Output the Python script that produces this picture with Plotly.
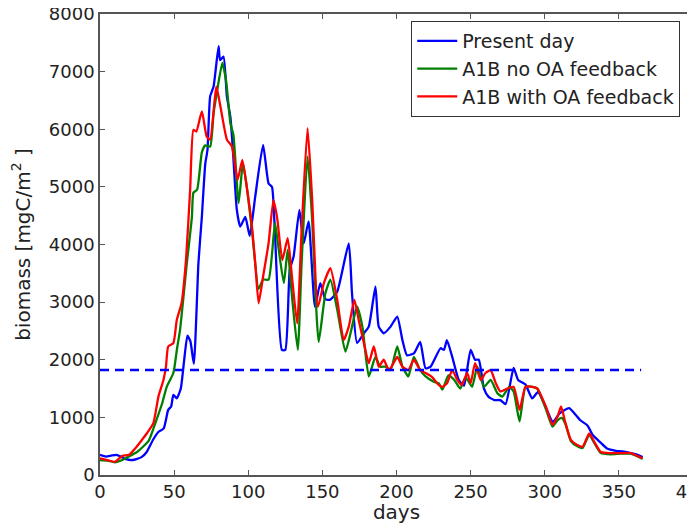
import plotly.graph_objects as go

# ---- data ----
days_present = [0, 4, 8, 11, 14, 17, 22, 28, 31.5, 36, 39.5, 43, 46, 48, 49.5, 51.8, 54.5, 56.8, 59, 61, 63.3,
                66.4, 68.7, 71, 72.5, 74.3, 76.6, 80, 81, 83.3, 85.6, 88, 89.5, 92.3, 94.6, 98, 101, 104.7, 110,
                113.7, 116, 118, 122.7, 125, 128, 130.6, 134.5, 137.4, 140.7, 145, 148.6, 152, 155, 160, 167.8,
                170, 173.4, 178, 181.3, 185.8, 188, 191.4, 196, 200.5, 204, 207, 211.7, 216, 219.6, 223, 229.7,
                232, 234, 237.6, 242, 245.5, 250, 253, 255.5, 259, 262, 266, 270, 273.6, 279, 282, 287, 291.5,
                295.5, 300.5, 305.5, 310, 316.4, 320, 324, 328.8, 332.5, 337.8, 342, 348, 352.5, 358, 362.6, 366]
present = [350, 320, 340, 350, 320, 280, 260, 310, 400, 620, 750, 810, 1130, 1190, 1390, 1330, 1500, 2000, 2420,
           2320, 1930, 3680, 4480, 5400, 5640, 6570, 6740, 7440, 7200, 7260, 6570, 6200, 5700, 4600, 4310, 4480,
           4150, 4830, 5730, 5060, 5000, 4200, 2170, 2170, 3560, 3790, 4600, 4020, 4400, 2920, 3330, 3050, 3040,
           3180, 4020, 3150, 2290, 2460, 2575, 3270, 2575, 2460, 2575, 2750, 2340, 2080, 2110, 2310, 1850, 1880,
           2200, 2170, 2340, 2050, 1650, 1550, 2170, 2000, 2000, 1500, 1360, 1300, 1300, 1230, 1860, 1650, 1570,
           1330, 1440, 1190, 920, 1070, 1160, 1070, 950, 860, 690, 560, 460, 420, 410, 380, 350, 310]

days_no_oa = [0, 5, 10, 15, 20, 25, 29, 33, 38, 42, 45, 49.5, 52, 54, 58.6, 62, 63, 65.5, 68.7, 71, 74.3, 76.6,
              78.8, 82.5, 85, 88, 90, 93.5, 96.4, 99, 102.5, 107, 110, 113.7, 118, 120, 124, 126.6, 129.5, 133.4,
              136, 140, 143, 147.5, 152, 155.4, 160, 165.5, 169, 173.4, 177, 181.3, 185.8, 189, 192.6, 196, 200.5,
              204, 208, 211.7, 216, 219.6, 225, 228.6, 231, 235, 239, 243, 246.6, 251, 254.5, 259, 263.5, 268,
              271.4, 276, 279, 283, 287, 291.7, 295, 300.7, 305.2, 308.6, 311.5, 314, 317.6, 322, 325.5, 330,
              333.3, 337.8, 344.6, 351.4, 358, 362.6, 366]
no_oa = [260, 250, 220, 260, 330, 400, 490, 600, 950, 1250, 1530, 1770, 2200, 2520, 3680, 4480, 4900, 4950, 5600,
         5720, 5700, 6280, 6630, 7150, 6850, 6100, 5900, 4720, 5410, 5000, 4250, 3230, 3390, 3390, 4370, 4020,
         3330, 3910, 3100, 2170, 3680, 5530, 4480, 2310, 3150, 3390, 2870, 2140, 2460, 2920, 2575, 1710, 2050,
         1880, 1880, 1820, 2230, 1880, 1710, 2050, 1820, 1710, 1620, 1590, 1480, 1730, 1650, 1500, 1700, 1530,
         1880, 1530, 1650, 1420, 1360, 1530, 1450, 930, 1530, 1530, 1500, 1150, 840, 950, 990, 880, 590, 500,
         470, 700, 560, 380, 360, 370, 370, 320, 280]

days_with_oa = [0, 5, 10, 15, 19.6, 24, 28, 31.5, 36, 39.4, 42.8, 44.5, 46, 49.5, 51.8, 55, 58, 60.8, 63, 65,
                68.7, 72, 74.3, 78.4, 80.5, 85.6, 89, 92.8, 96, 99, 102.5, 104.7, 107, 110, 113.7, 117, 119.4,
                123, 126.6, 129.5, 133, 136, 140, 143, 147, 151, 155.4, 160, 164.4, 167.8, 171.6, 174.5, 178,
                181.3, 184.7, 188, 191.4, 194.8, 198, 200.5, 204, 208, 211.7, 216, 219.6, 224, 228.6, 231, 234,
                237.6, 241, 244, 247.7, 250, 253, 256.8, 260, 263.5, 267, 270, 274.8, 279, 283, 287, 291.7, 295,
                300.7, 305.2, 308.6, 311, 314, 317.6, 322, 325.5, 330, 333.3, 337.8, 344.6, 351.4, 358, 362.6, 366]
with_oa = [290, 260, 230, 330, 350, 470, 600, 720, 900, 1360, 1650, 1880, 2230, 2290, 2690, 2980, 3730, 4950,
           5990, 5960, 6310, 5870, 5820, 6740, 6500, 5820, 5700, 5120, 5470, 5000, 4310, 3680, 2980, 3440, 4020,
           4770, 4480, 3730, 4110, 3440, 2630, 4250, 6020, 4830, 2920, 3330, 3590, 3040, 2340, 2575, 3040, 2690,
           2290, 1940, 2230, 1880, 2000, 1820, 1940, 2050, 1880, 1820, 2000, 1820, 1770, 1700, 1560, 1530, 1590,
           1820, 1650, 1560, 1770, 1590, 1940, 1650, 1770, 1820, 1590, 1450, 1500, 1530, 1130, 1530, 1530, 1500,
           1190, 870, 1010, 1190, 900, 610, 520, 490, 720, 580, 400, 380, 380, 380, 330, 290]

threshold_days = [0, 365]
threshold = [1820, 1820]

series_names = ["Present day", "A1B no OA feedback", "A1B with OA feedback"]
x_ticks = [0, 50, 100, 150, 200, 250, 300, 350, 400]
y_ticks = [0, 1000, 2000, 3000, 4000, 5000, 6000, 7000, 8000]

FONT = "DejaVu Sans"
fig = go.Figure()
for name, xs, ys, col in [(series_names[0], days_present, present, "#0000ff"),
                          (series_names[1], days_no_oa, no_oa, "#008000"),
                          (series_names[2], days_with_oa, with_oa, "#ff0000")]:
    fig.add_trace(go.Scatter(x=xs, y=ys, mode="lines", name=name, legendgroup=name,
                             line=dict(color=col, width=2.3, shape="spline", smoothing=0.5)))
fig.add_trace(go.Scatter(x=threshold_days, y=threshold, mode="lines", showlegend=False,
                         line=dict(color="#0000ff", width=2.5, dash="9px,6px")))

axis_common = dict(showgrid=False, zeroline=False, showline=True, linecolor="#555555", linewidth=1.6,
                   mirror="ticks", ticks="inside", ticklen=5, tickwidth=1.2, tickcolor="#555555",
                   automargin=False, ticklabeloverflow="allow",
                   tickfont=dict(family=FONT, size=18, color="#222222"))
fig.update_xaxes(range=[0, 400], tickvals=x_ticks, **axis_common,
                 title=dict(text="days", font=dict(family=FONT, size=20, color="#222222"), standoff=1))
fig.update_yaxes(range=[0, 8000], tickvals=y_ticks, **axis_common,
                 title=dict(text="biomass [mgC/m<sup>2</sup> ]", font=dict(family=FONT, size=20, color="#222222"),
                            standoff=13))
# page body keeps an 8px margin, so the figure is sized to the remaining viewport
fig.update_layout(
    width=687, height=516, margin=dict(l=92, r=2, t=6, b=49, autoexpand=False),
    paper_bgcolor="white", plot_bgcolor="white",
    font=dict(family=FONT, color="#222222"),
    legend=dict(x=0.5245, y=0.985, xanchor="left", yanchor="top", bordercolor="#333333", borderwidth=1.2,
                bgcolor="white", font=dict(family=FONT, size=19, color="#222222"),
                itemwidth=40, tracegroupgap=0, traceorder="grouped"),
)
fig.write_html("out.html")
